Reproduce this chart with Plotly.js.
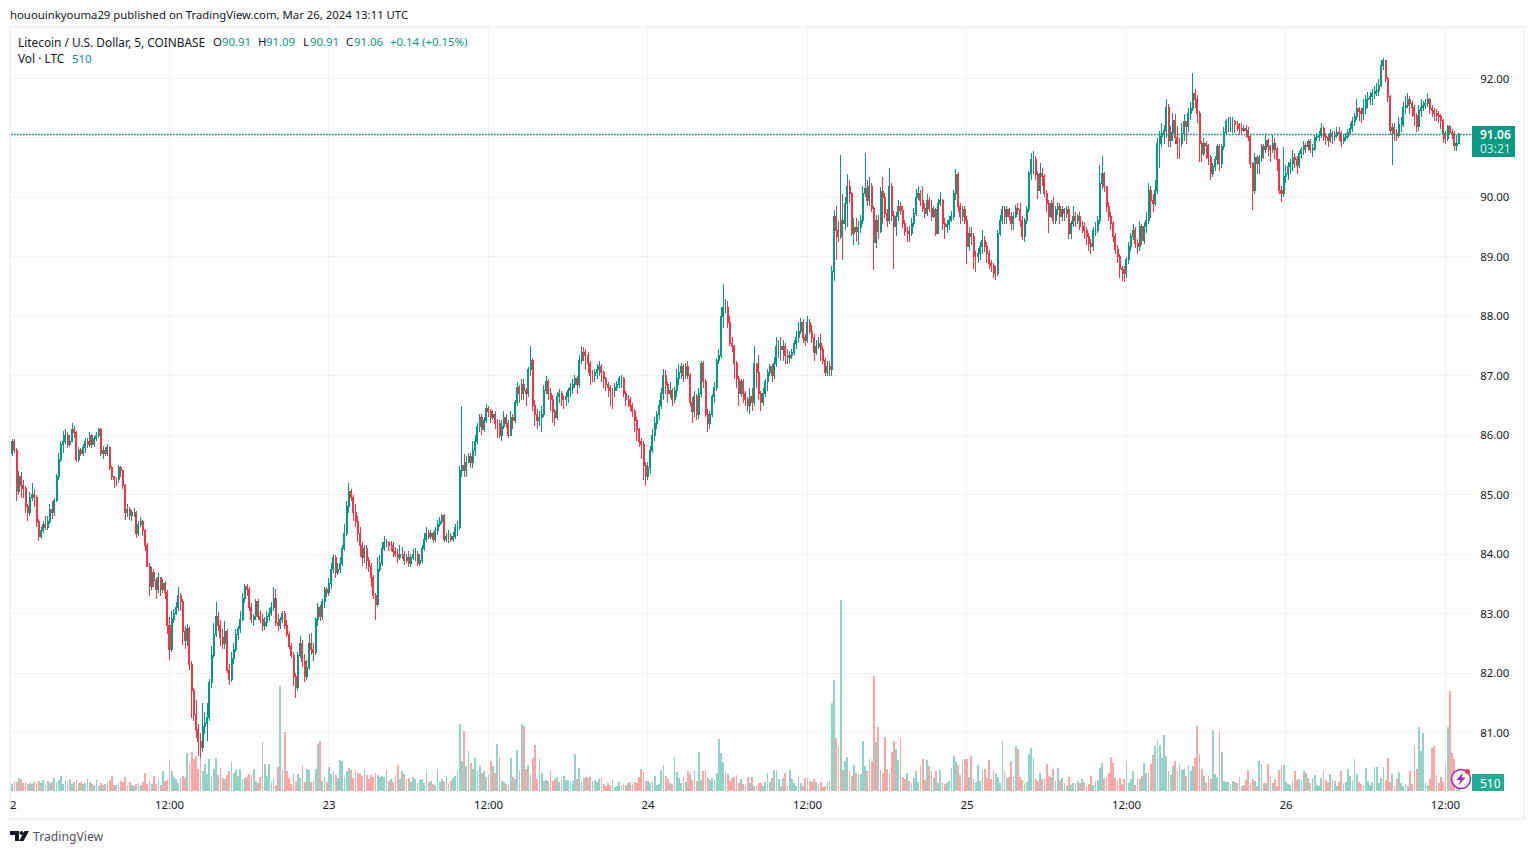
<!DOCTYPE html>
<html><head><meta charset="utf-8">
<script src="https://cdn.plot.ly/plotly-3.0.1.min.js"></script>
<style>html,body{margin:0;padding:0;background:#fff}#c{width:1534px;height:854px}
.boxlayer path,.barlayer path{shape-rendering:crispEdges}</style>
</head><body><div id="c"></div>
<script>
// Prices in US cents, one candle per 10 minutes, one row per hour, starting 22 Mar 2024 00:00.
const openCents=[
8560,8570,8590,8575,8505,8530,
8515,8510,8480,8470,8495,8500,
8495,8455,8430,8440,8450,8445,
8455,8475,8470,8490,8530,8560,
8585,8590,8600,8585,8590,8610,
8605,8560,8575,8570,8580,8590,
8585,8600,8585,8595,8600,8610,
8570,8575,8570,8580,8545,8530,
8525,8525,8545,8540,8515,8470,
8475,8465,8470,8470,8435,8450,
8455,8440,8415,8380,8345,8370,
8355,8340,8360,8340,8350,8335,
8280,8240,8290,8300,8310,8330,
8320,8270,8255,8275,8215,8170,
8130,8105,8085,8075,8110,8115,
8125,8185,8230,8265,8295,8280,
8260,8250,8270,8205,8190,8225,
8240,8265,8275,8290,8325,8345,
8340,8310,8290,8295,8320,8295,
8290,8280,8285,8295,8300,8310,
8325,8285,8280,8290,8300,8280,
8265,8245,8230,8195,8175,8230,
8250,8220,8195,8210,8250,8240,
8235,8290,8310,8295,8320,8340,
8335,8350,8375,8395,8370,8375,
8385,8410,8435,8480,8505,8495,
8470,8455,8435,8415,8395,8410,
8390,8380,8360,8330,8315,8375,
8385,8410,8420,8420,8415,8415,
8405,8400,8395,8400,8400,8390,
8395,8385,8395,8400,8400,8385,
8390,8410,8425,8435,8430,8435,
8425,8440,8450,8455,8465,8425,
8430,8430,8425,8430,8445,8445,
8540,8550,8540,8555,8565,8555,
8575,8590,8615,8630,8610,8625,
8645,8640,8630,8635,8620,8620,
8600,8615,8630,8620,8600,8630,
8625,8655,8680,8670,8685,8675,
8670,8710,8725,8650,8635,8625,
8630,8635,8675,8690,8670,8660,
8640,8630,8665,8670,8660,8660,
8665,8675,8680,8685,8695,8685,
8725,8740,8735,8735,8720,8700,
8700,8705,8710,8715,8705,8695,
8685,8680,8675,8675,8680,8685,
8695,8695,8670,8660,8660,8650,
8640,8625,8610,8590,8585,8550,
8530,8545,8575,8600,8620,8635,
8650,8670,8700,8685,8670,8675,
8660,8675,8695,8705,8715,8700,
8715,8700,8655,8640,8665,8635,
8670,8720,8690,8635,8620,8635,
8665,8680,8725,8735,8800,8815,
8815,8790,8755,8750,8720,8695,
8670,8690,8670,8660,8650,8665,
8655,8720,8705,8670,8655,8670,
8690,8705,8715,8700,8720,8750,
8750,8745,8750,8735,8730,8735,
8740,8755,8765,8775,8790,8765,
8760,8790,8775,8765,8740,8750,
8755,8745,8725,8705,8715,8710,
8875,8968,8945,8934,8962,8956,
8990,9018,9007,8940,8950,8942,
8950,8962,9007,9015,8995,9018,
8982,8925,8962,8942,9010,9000,
8973,8962,9018,8970,8951,8968,
8985,8978,8956,8942,8942,8940,
8956,8973,9000,9007,8995,8982,
8973,8995,8982,8968,8979,8940,
8990,8995,8956,8951,8954,8962,
8968,9007,9038,8984,8968,8979,
8962,8917,8940,8934,8900,8900,
8906,8917,8928,8917,8906,8889,
8886,8872,8872,8940,8962,8979,
8968,8979,8968,8956,8968,8982,
8979,8962,8934,8962,8979,9040,
9063,9063,9038,9012,9040,9035,
9007,8990,8968,8990,8962,8979,
8985,8968,8979,8973,8979,8940,
8956,8968,8962,8968,8951,8951,
8945,8934,8923,8917,8945,8945,
8962,9024,9040,9018,8984,8968,
8956,8934,8912,8900,8880,8878,
8872,8895,8917,8934,8945,8923,
8917,8951,8928,8951,8962,9012,
8995,8990,9012,9090,9102,9108,
9113,9152,9095,9110,9130,9100,
9090,9090,9108,9127,9119,9141,
9150,9175,9164,9141,9090,9074,
9090,9088,9068,9040,9052,9063,
9085,9057,9085,9110,9127,9127,
9127,9127,9122,9122,9116,9113,
9116,9113,9102,9057,9012,9068,
9057,9068,9085,9080,9096,9085,
9080,9091,9080,9063,9012,9007,
9035,9040,9052,9057,9068,9063,
9054,9074,9080,9088,9085,9094,
9080,9082,9100,9102,9105,9116,
9102,9100,9096,9108,9102,9105,
9110,9108,9094,9100,9102,9110,
9116,9127,9136,9150,9144,9141,
9150,9164,9166,9169,9175,9178,
9180,9189,9222,9231,9200,9169,
9113,9118,9108,9105,9122,9122,
9152,9155,9164,9158,9152,9138,
9119,9147,9152,9155,9158,9164,
9150,9147,9141,9138,9136,9130,
9108,9099,9119,9110,9108,9088,
9091];
const highCents=[
8585,8593,8593,8578,8540,8538,
8525,8515,8485,8505,8520,8510,
8500,8460,8445,8455,8465,8465,
8485,8490,8495,8535,8570,8590,
8608,8610,8605,8600,8620,8615,
8608,8580,8578,8585,8595,8595,
8605,8602,8598,8605,8612,8612,
8582,8580,8585,8582,8548,8532,
8530,8550,8548,8542,8518,8485,
8480,8475,8478,8472,8455,8462,
8458,8442,8418,8385,8378,8375,
8360,8368,8362,8358,8355,8340,
8295,8305,8308,8320,8345,8335,
8325,8280,8282,8278,8220,8175,
8155,8115,8100,8150,8135,8150,
8190,8245,8285,8320,8302,8290,
8275,8288,8275,8215,8235,8250,
8275,8280,8305,8335,8350,8350,
8345,8318,8300,8325,8325,8305,
8300,8295,8305,8310,8320,8345,
8342,8300,8295,8305,8305,8290,
8270,8250,8235,8200,8235,8262,
8255,8232,8222,8265,8268,8250,
8295,8318,8315,8325,8345,8345,
8360,8385,8400,8398,8385,8395,
8415,8450,8490,8520,8510,8500,
8485,8465,8445,8420,8415,8415,
8395,8385,8365,8335,8395,8398,
8420,8430,8425,8422,8422,8420,
8412,8408,8415,8412,8405,8400,
8405,8400,8408,8410,8405,8400,
8415,8435,8445,8440,8440,8438,
8445,8458,8462,8468,8468,8435,
8440,8435,8438,8450,8455,8548,
8650,8568,8565,8570,8570,8590,
8600,8620,8635,8635,8630,8652,
8650,8645,8642,8640,8628,8625,
8625,8640,8635,8625,8640,8635,
8660,8690,8685,8695,8695,8680,
8715,8750,8730,8660,8645,8640,
8650,8685,8700,8695,8680,8668,
8645,8672,8678,8675,8668,8672,
8680,8688,8695,8702,8700,8735,
8750,8748,8745,8740,8725,8710,
8712,8720,8725,8720,8710,8698,
8690,8685,8680,8688,8692,8700,
8702,8698,8675,8668,8665,8655,
8645,8630,8612,8595,8590,8555,
8555,8582,8610,8630,8640,8660,
8680,8712,8710,8690,8690,8680,
8682,8712,8720,8722,8720,8722,
8725,8705,8665,8675,8670,8680,
8725,8725,8695,8645,8640,8670,
8690,8730,8745,8815,8855,8830,
8825,8800,8765,8752,8725,8700,
8695,8695,8675,8665,8680,8680,
8750,8722,8735,8675,8680,8695,
8712,8720,8720,8732,8765,8760,
8765,8760,8755,8745,8742,8745,
8760,8775,8790,8798,8795,8770,
8800,8795,8785,8770,8760,8765,
8770,8750,8730,8725,8725,8885,
8979,8985,8960,9071,9005,9000,
9040,9030,9010,8965,8965,8960,
8970,9020,9075,9030,9035,9025,
8985,8970,8970,9018,9035,9008,
8980,9050,9025,8978,8975,8995,
8992,8985,8962,8950,8952,8965,
8982,9015,9020,9012,9020,8990,
9005,9000,8995,8985,8982,8997,
9010,8998,8965,8962,8968,8978,
9012,9048,9042,8990,8985,8985,
8968,8950,8950,8940,8910,8915,
8925,8945,8935,8925,8912,8895,
8890,8885,8945,8970,8985,8985,
8985,8982,8975,8975,8988,8990,
8990,8968,8965,8985,9045,9075,
9078,9070,9045,9058,9050,9040,
9012,8995,8995,9000,8985,8992,
8990,8985,8982,8985,8985,8960,
8985,8975,8972,8975,8960,8958,
8950,8940,8930,8950,8958,8968,
9055,9070,9042,9020,8992,8975,
8960,8940,8920,8905,8885,8885,
8900,8925,8940,8955,8950,8930,
8960,8955,8958,8975,9025,9020,
9005,9030,9100,9112,9125,9122,
9165,9158,9120,9142,9140,9120,
9100,9125,9140,9128,9150,9160,
9210,9182,9172,9145,9095,9100,
9095,9090,9072,9058,9070,9090,
9090,9090,9118,9132,9135,9135,
9135,9130,9128,9125,9125,9122,
9122,9118,9105,9060,9075,9072,
9072,9090,9090,9108,9100,9088,
9105,9100,9085,9065,9020,9085,
9055,9060,9065,9080,9075,9070,
9078,9085,9095,9092,9098,9098,
9090,9105,9108,9112,9125,9120,
9108,9105,9115,9112,9112,9118,
9118,9112,9105,9108,9115,9125,
9135,9142,9165,9152,9150,9165,
9172,9178,9178,9182,9188,9192,
9200,9232,9235,9218,9202,9172,
9125,9125,9115,9135,9135,9160,
9170,9175,9170,9162,9155,9142,
9155,9165,9162,9165,9175,9168,
9155,9150,9148,9145,9140,9132,
9112,9122,9122,9115,9112,9105,
9109];
const lowCents=[
8558,8565,8570,8490,8500,8495,
8495,8470,8455,8465,8490,8480,
8445,8422,8425,8435,8440,8440,
8450,8460,8465,8488,8525,8555,
8570,8585,8578,8580,8588,8595,
8555,8555,8565,8565,8570,8578,
8580,8578,8580,8590,8595,8565,
8560,8565,8565,8542,8525,8512,
8515,8520,8530,8510,8458,8462,
8458,8455,8462,8428,8430,8445,
8430,8405,8378,8330,8340,8345,
8325,8335,8330,8335,8325,8265,
8222,8235,8285,8298,8305,8305,
8248,8240,8245,8205,8125,8120,
8090,8060,8057,8068,8098,8085,
8120,8175,8225,8260,8270,8245,
8240,8240,8200,8180,8185,8215,
8235,8255,8268,8288,8318,8330,
8305,8285,8280,8290,8290,8285,
8270,8272,8278,8288,8296,8305,
8280,8270,8275,8285,8275,8260,
8240,8225,8178,8158,8170,8225,
8210,8185,8188,8205,8230,8220,
8230,8280,8288,8290,8310,8328,
8330,8342,8368,8360,8365,8368,
8380,8405,8430,8470,8490,8455,
8445,8420,8395,8380,8385,8375,
8370,8345,8325,8290,8312,8370,
8380,8405,8412,8405,8405,8395,
8395,8385,8390,8392,8382,8385,
8378,8378,8390,8388,8380,8380,
8385,8405,8420,8425,8425,8418,
8420,8432,8445,8450,8420,8420,
8418,8420,8420,8425,8430,8440,
8530,8530,8530,8555,8545,8545,
8565,8585,8605,8600,8605,8620,
8630,8620,8625,8610,8595,8595,
8590,8610,8612,8595,8598,8610,
8620,8650,8655,8660,8660,8650,
8665,8700,8640,8615,8610,8615,
8605,8630,8670,8660,8640,8620,
8615,8625,8655,8650,8645,8650,
8655,8665,8670,8680,8670,8680,
8720,8725,8710,8705,8685,8690,
8690,8695,8700,8690,8680,8675,
8665,8650,8645,8665,8675,8680,
8680,8665,8650,8648,8640,8630,
8605,8590,8580,8560,8525,8515,
8525,8535,8570,8590,8610,8625,
8645,8660,8670,8655,8662,8650,
8655,8665,8685,8695,8690,8695,
8695,8650,8620,8630,8625,8628,
8665,8680,8630,8605,8610,8630,
8655,8675,8720,8730,8780,8805,
8780,8750,8740,8695,8680,8650,
8665,8655,8650,8640,8635,8640,
8650,8680,8660,8640,8650,8665,
8675,8700,8690,8695,8715,8730,
8725,8725,8720,8720,8722,8728,
8735,8745,8755,8770,8755,8750,
8755,8770,8755,8725,8735,8745,
8725,8720,8700,8700,8700,8700,
8860,8895,8925,8930,8895,8945,
8950,8990,8935,8920,8925,8920,
8940,8955,9000,8985,8985,8975,
8878,8915,8930,8940,8955,8965,
8950,8955,8960,8880,8935,8960,
8970,8948,8935,8925,8925,8935,
8950,8968,8995,8985,8975,8965,
8968,8975,8960,8965,8935,8938,
8985,8945,8930,8940,8945,8958,
8962,8995,8975,8955,8960,8955,
8888,8910,8920,8880,8875,8890,
8895,8905,8908,8890,8880,8875,
8865,8862,8868,8935,8955,8955,
8955,8960,8945,8945,8965,8970,
8950,8928,8925,8955,8975,9030,
9040,9030,8998,9005,9020,9000,
8975,8940,8965,8955,8955,8970,
8955,8960,8960,8965,8930,8930,
8950,8950,8955,8945,8940,8930,
8920,8910,8905,8910,8935,8940,
8955,9015,9010,8975,8960,8945,
8925,8905,8890,8865,8860,8858,
8865,8888,8910,8928,8915,8905,
8910,8920,8922,8940,8955,8965,
8975,8985,9005,9050,9085,9090,
9100,9085,9085,9095,9090,9065,
9065,9085,9095,9090,9110,9130,
9145,9150,9125,9060,9060,9070,
9065,9055,9030,9035,9045,9055,
9045,9050,9080,9105,9110,9110,
9108,9108,9112,9105,9105,9110,
9100,9095,9050,8979,9005,9040,
9040,9060,9065,9075,9070,9060,
9075,9065,9045,9005,8993,9000,
9025,9030,9040,9045,9050,9040,
9050,9065,9072,9075,9078,9075,
9068,9078,9095,9095,9100,9095,
9088,9085,9092,9090,9095,9100,
9095,9085,9090,9095,9098,9105,
9110,9120,9130,9128,9125,9130,
9140,9150,9155,9155,9165,9170,
9170,9185,9215,9195,9160,9105,
9054,9095,9095,9100,9110,9118,
9140,9150,9140,9135,9120,9110,
9112,9135,9145,9148,9152,9140,
9135,9128,9128,9125,9115,9092,
9090,9095,9105,9098,9078,9078,
9091];
const closeCents=[
8570,8590,8575,8505,8530,8515,
8510,8480,8470,8495,8500,8495,
8455,8430,8440,8450,8445,8455,
8475,8470,8490,8530,8560,8585,
8590,8600,8585,8590,8610,8605,
8560,8575,8570,8580,8590,8585,
8600,8585,8595,8600,8610,8570,
8575,8570,8580,8545,8530,8525,
8525,8545,8540,8515,8470,8475,
8465,8470,8470,8435,8450,8455,
8440,8415,8380,8345,8370,8355,
8340,8360,8340,8350,8335,8280,
8240,8290,8300,8310,8330,8320,
8270,8255,8275,8215,8170,8130,
8105,8085,8075,8110,8115,8125,
8185,8230,8265,8295,8280,8260,
8250,8270,8205,8190,8225,8240,
8265,8275,8290,8325,8345,8340,
8310,8290,8295,8320,8295,8290,
8280,8285,8295,8300,8310,8325,
8285,8280,8290,8300,8280,8265,
8245,8230,8195,8175,8230,8250,
8220,8195,8210,8250,8240,8235,
8290,8310,8295,8320,8340,8335,
8350,8375,8395,8370,8375,8385,
8410,8435,8480,8505,8495,8470,
8455,8435,8415,8395,8410,8390,
8380,8360,8330,8315,8375,8385,
8410,8420,8420,8415,8415,8405,
8400,8395,8400,8400,8390,8395,
8385,8395,8400,8400,8385,8390,
8410,8425,8435,8430,8435,8425,
8440,8450,8455,8465,8425,8430,
8430,8425,8430,8445,8445,8540,
8550,8540,8555,8565,8555,8575,
8590,8615,8630,8610,8625,8645,
8640,8630,8635,8620,8620,8600,
8615,8630,8620,8600,8630,8625,
8655,8680,8670,8685,8675,8670,
8710,8725,8650,8635,8625,8630,
8635,8675,8690,8670,8660,8640,
8630,8665,8670,8660,8660,8665,
8675,8680,8685,8695,8685,8725,
8740,8735,8735,8720,8700,8700,
8705,8710,8715,8705,8695,8685,
8680,8675,8675,8680,8685,8695,
8695,8670,8660,8660,8650,8640,
8625,8610,8590,8585,8550,8530,
8545,8575,8600,8620,8635,8650,
8670,8700,8685,8670,8675,8660,
8675,8695,8705,8715,8700,8715,
8700,8655,8640,8665,8635,8670,
8720,8690,8635,8620,8635,8665,
8680,8725,8735,8800,8815,8815,
8790,8755,8750,8720,8695,8670,
8690,8670,8660,8650,8665,8655,
8720,8705,8670,8655,8670,8690,
8705,8715,8700,8720,8750,8750,
8745,8750,8735,8730,8735,8740,
8755,8765,8775,8790,8765,8760,
8790,8775,8765,8740,8750,8755,
8745,8725,8705,8715,8710,8875,
8968,8945,8934,8962,8956,8990,
9018,9007,8940,8950,8942,8950,
8962,9007,9015,8995,9018,8982,
8925,8962,8942,9010,9000,8973,
8962,9018,8970,8951,8968,8985,
8978,8956,8942,8942,8940,8956,
8973,9000,9007,8995,8982,8973,
8995,8982,8968,8979,8940,8990,
8995,8956,8951,8954,8962,8968,
9007,9038,8984,8968,8979,8962,
8917,8940,8934,8900,8900,8906,
8917,8928,8917,8906,8889,8886,
8872,8872,8940,8962,8979,8968,
8979,8968,8956,8968,8982,8979,
8962,8934,8962,8979,9040,9063,
9063,9038,9012,9040,9035,9007,
8990,8968,8990,8962,8979,8985,
8968,8979,8973,8979,8940,8956,
8968,8962,8968,8951,8951,8945,
8934,8923,8917,8945,8945,8962,
9024,9040,9018,8984,8968,8956,
8934,8912,8900,8880,8878,8872,
8895,8917,8934,8945,8923,8917,
8951,8928,8951,8962,9012,8995,
8990,9012,9090,9102,9108,9113,
9152,9095,9110,9130,9100,9090,
9090,9108,9127,9119,9141,9150,
9175,9164,9141,9090,9074,9090,
9088,9068,9040,9052,9063,9085,
9057,9085,9110,9127,9127,9127,
9127,9122,9122,9116,9113,9116,
9113,9102,9057,9012,9068,9057,
9068,9085,9080,9096,9085,9080,
9091,9080,9063,9012,9007,9035,
9040,9052,9057,9068,9063,9054,
9074,9080,9088,9085,9094,9080,
9082,9100,9102,9105,9116,9102,
9100,9096,9108,9102,9105,9110,
9108,9094,9100,9102,9110,9116,
9127,9136,9150,9144,9141,9150,
9164,9166,9169,9175,9178,9180,
9189,9222,9231,9200,9169,9113,
9118,9108,9105,9122,9122,9152,
9155,9164,9158,9152,9138,9119,
9147,9152,9155,9158,9164,9150,
9147,9141,9138,9136,9130,9108,
9099,9119,9110,9108,9088,9091,
9106];
// Volume in hundreds of LTC, same grid.
const volumeHundreds=[
8,7,10,9,13,12, 8,9,7,8,7,9, 7,10,8,11,7,10, 8,9,13,9,11,15,
7,10,9,12,7,9, 11,8,9,7,8,12, 9,7,6,11,5,8, 6,7,9,11,15,6,
6,8,10,9,14,6, 9,6,5,7,8,6, 9,18,7,11,7,15, 7,11,6,20,10,11,
31,20,14,12,8,13, 15,13,38,28,39,32, 35,22,33,20,27,17, 32,15,22,33,16,23,
13,12,16,20,29,18, 21,15,22,12,13,14, 17,16,22,10,8,14, 49,27,15,27,9,12,
6,24,105,21,59,20, 13,7,17,10,17,13, 26,9,22,21,9,10, 22,47,50,10,14,9,
24,17,20,16,13,31, 30,14,20,23,21,13, 21,18,17,15,22,16, 12,16,14,18,16,14,
15,14,21,10,12,9, 16,26,12,20,17,12, 13,9,14,12,8,11, 12,8,20,9,10,7,
6,22,9,12,10,15, 7,10,13,15,20,67, 30,60,25,40,28,22, 33,20,25,18,20,14,
17,30,25,18,47,33, 10,9,7,7,33,14, 12,41,21,67,65,22, 26,16,33,46,12,32,
18,10,11,10,21,10, 12,14,9,12,15,11, 11,9,10,37,12,23, 10,13,14,13,14,10,
11,9,12,13,7,5, 8,6,11,4,5,9, 6,7,6,8,9,7, 9,8,14,22,19,10,
10,8,9,15,6,7, 21,26,15,12,8,7, 34,19,13,8,14,9, 20,17,11,20,10,39,
11,20,21,13,11,13, 11,18,52,38,29,20, 17,10,13,14,16,8, 12,7,6,14,8,14,
5,6,8,8,5,9, 18,9,13,21,21,12, 5,13,18,5,21,12, 8,5,14,8,5,13,
13,10,9,12,9,7, 9,4,5,9,11,88, 111,53,45,191,21,30, 34,20,15,26,18,17,
17,50,25,20,32,30, 115,49,64,21,18,54, 22,18,39,50,42,31, 53,14,12,18,10,8,
13,20,9,25,32,11, 31,25,20,13,20,8, 21,9,7,8,10,23, 35,29,26,16,30,32,
32,14,35,12,9,26, 10,20,22,13,31,12, 20,18,14,8,50,20, 13,14,30,14,45,42,
14,11,8,9,37,43, 33,12,10,18,12,13, 27,15,14,22,10,23, 11,13,8,5,14,6,
8,8,10,8,12,9, 5,7,15,6,10,11, 23,28,13,14,18,34, 28,13,10,13,7,12,
30,8,12,20,6,13, 12,15,28,18,19,27, 36,45,51,46,33,56, 35,20,16,25,30,20,
27,21,22,15,26,20, 25,33,65,37,22,15, 8,15,12,61,17,14, 60,39,10,9,9,7,
10,9,8,14,5,6, 11,21,8,12,10,5, 30,27,8,8,27,15, 8,12,5,21,26,26,
9,7,6,11,20,11, 12,11,20,18,13,8, 13,16,6,5,13,20, 11,9,17,12,10,5,
9,20,7,9,22,15, 10,32,17,9,7,6, 23,10,6,9,24,24, 8,13,24,11,33,9,
17,5,12,19,8,5, 7,5,20,7,46,22, 64,40,58,8,6,12, 43,45,16,8,14,9,
25,64,100,38,32,10, 5];
const xTickVals=['2024-03-22 12:00','2024-03-23 00:00','2024-03-23 12:00','2024-03-24 00:00','2024-03-24 12:00','2024-03-25 00:00','2024-03-25 12:00','2024-03-26 00:00','2024-03-26 12:00'];
const xTickText=['12:00','23','12:00','24','12:00','25','12:00','26','12:00'];
const yTickVals=[81,82,83,84,85,86,87,88,89,90,91,92];
const yTickText=['81.00','82.00','83.00','84.00','85.00','86.00','87.00','88.00','89.00','90.00','','92.00'];
const lastPrice=91.06;

const FONT='"Noto Sans",sans-serif', INK='#131722', UP='#089981', DOWN='#F23645', GRID='#F1F2F5', FRAME='#F0F3FA', SIZE=11.4, LABEL=11.85;
const L=11,R=1472,T=28,B=792;
const px=x=>(x-L)/(R-L), py=y=>1-(y-T)/(B-T);
const start=Date.UTC(2024,2,22);
const fmt=ms=>new Date(ms).toISOString().slice(0,19).replace('T',' ');
const times=closeCents.map((_,i)=>fmt(start+i*600000));
const c=a=>a.map(v=>v/100);

const candles={type:'candlestick',x:times,open:c(openCents),high:c(highCents),low:c(lowCents),close:c(closeCents),
  yaxis:'y',xaxis:'x',hoverinfo:'skip',whiskerwidth:0,
  increasing:{line:{color:UP,width:1},fillcolor:UP},decreasing:{line:{color:DOWN,width:1},fillcolor:DOWN}};
const vols={type:'bar',x:times,y:volumeHundreds,yaxis:'y2',xaxis:'x',hoverinfo:'skip',width:480000,
  marker:{color:closeCents.map((v,i)=>v>=openCents[i]?'#92D2C7':'#F9A8A8'),line:{width:0}}};

const note=(x,y,text,color,opt)=>Object.assign({xref:'paper',yref:'paper',x:px(x),y:py(y),text,showarrow:false,xanchor:'left',yanchor:'middle',
  font:{family:FONT,size:SIZE,color:color||INK},borderpad:0,borderwidth:0},opt||{});
const box=(x0,y0,x1,y1,fill)=>({type:'rect',xref:'paper',yref:'paper',x0:px(x0),x1:px(x1),y0:py(y0),y1:py(y1),fillcolor:fill,line:{width:0},layer:'above'});
const poly=(pts,fill)=>({type:'path',xref:'paper',yref:'paper',path:'M'+pts.map(p=>px(p[0])+' '+py(p[1])).join('L')+'Z',fillcolor:fill,line:{width:0},layer:'above'});
const circle=(cx,cy,r,fill,stroke,w)=>({type:'circle',xref:'paper',yref:'paper',x0:px(cx-r),x1:px(cx+r),y0:py(cy-r),y1:py(cy+r),fillcolor:fill,line:{color:stroke||fill,width:w||0},layer:'above'});

const shapes=[
  {type:'rect',xref:'paper',yref:'paper',x0:px(10),x1:px(1524),y0:py(27),y1:py(819),fillcolor:'rgba(0,0,0,0)',line:{color:FRAME,width:2},layer:'below'},
  {type:'line',xref:'paper',yref:'y',x0:0,x1:1,y0:lastPrice,y1:lastPrice,line:{color:UP,width:1.5,dash:'1.7px,1.3px'},layer:'above'},
  box(1472,126,1515,157,UP),
  box(1472,774,1504,791,'#22AB94'),
  circle(1461,779,9.5,'rgba(255,255,255,0.75)','#9C27B0',1.5),
  poly([[1463,772.5],[1456.5,780],[1460.5,780],[1458.5,785.5],[1465.5,777.5],[1461.5,777.5]],'#9C27B0'),
  circle(1467.5,771.5,2.5,'#F23645'),
  poly([[10,831],[19,831],[19,841],[15,841],[15,835],[10,835]],INK),
  circle(21.5,833,2,INK),
  poly([[24.5,831],[29,831],[23.5,841],[19,841]],INK)
];
const big={font:{family:FONT,size:LABEL,color:INK}};
const annotations=[
  note(10,14,'hououinkyouma29 published on TradingView.com, Mar 26, 2024 13:11 UTC',INK,{font:{family:FONT,size:11.35,color:INK}}),
  note(18,41.5,'Litecoin / U.S. Dollar, 5, COINBASE',INK,big),
  note(213,41.5,'O'),note(222,41.5,'90.91',UP),
  note(258,41.5,'H'),note(266,41.5,'91.09',UP),
  note(303,41.5,'L'),note(310,41.5,'90.91',UP),
  note(346,41.5,'C'),note(354,41.5,'91.06',UP),
  note(390,41.5,'+0.14 (+0.15%)',UP),
  note(18,58.5,'Vol · LTC',INK,big),note(72,58.5,'510',UP),
  note(1480,134.5,'91.06','#fff',{font:{family:FONT,size:12,color:'#fff',weight:600}}),
  note(1480,148.5,'03:21','rgba(255,255,255,0.8)',{font:{family:FONT,size:12,color:'rgba(255,255,255,0.8)'}}),
  note(1480,783,'510','#fff',{font:{family:FONT,size:12,color:'#fff'}}),
  note(13,804,'2',INK,{xanchor:'center'}),
  note(33,836.5,'TradingView','#50535E',{font:{family:FONT,size:12.2,color:'#50535E'}})
];
const layout={width:1534,height:854,margin:{l:L,r:1534-R,t:T,b:854-B,pad:0},paper_bgcolor:'#fff',plot_bgcolor:'#fff',
  showlegend:false,dragmode:false,boxgap:0.35,bargap:0,shapes,annotations,
  font:{family:FONT,size:SIZE,color:INK},
  xaxis:{type:'date',range:['2024-03-22 00:04:30','2024-03-26 14:00'],rangeslider:{visible:false},tickmode:'array',tickvals:xTickVals,ticktext:xTickText,
    showgrid:true,gridcolor:GRID,gridwidth:1,zeroline:false,showline:false,ticks:'outside',ticklen:2,tickcolor:'rgba(0,0,0,0)',tickangle:0,
    tickfont:{family:FONT,size:SIZE,color:INK}},
  yaxis:{range:[80,92.85],side:'right',tickmode:'array',tickvals:yTickVals,ticktext:yTickText,showgrid:true,gridcolor:GRID,gridwidth:1,zeroline:false,showline:false,
    ticks:'outside',ticklen:5,tickcolor:'rgba(0,0,0,0)',tickfont:{family:FONT,size:SIZE,color:INK}},
  yaxis2:{range:[-1,763],overlaying:'y',side:'left',visible:false,fixedrange:true}
};
Plotly.newPlot('c',[candles,vols],layout,{displayModeBar:false,staticPlot:true});
</script></body></html>
